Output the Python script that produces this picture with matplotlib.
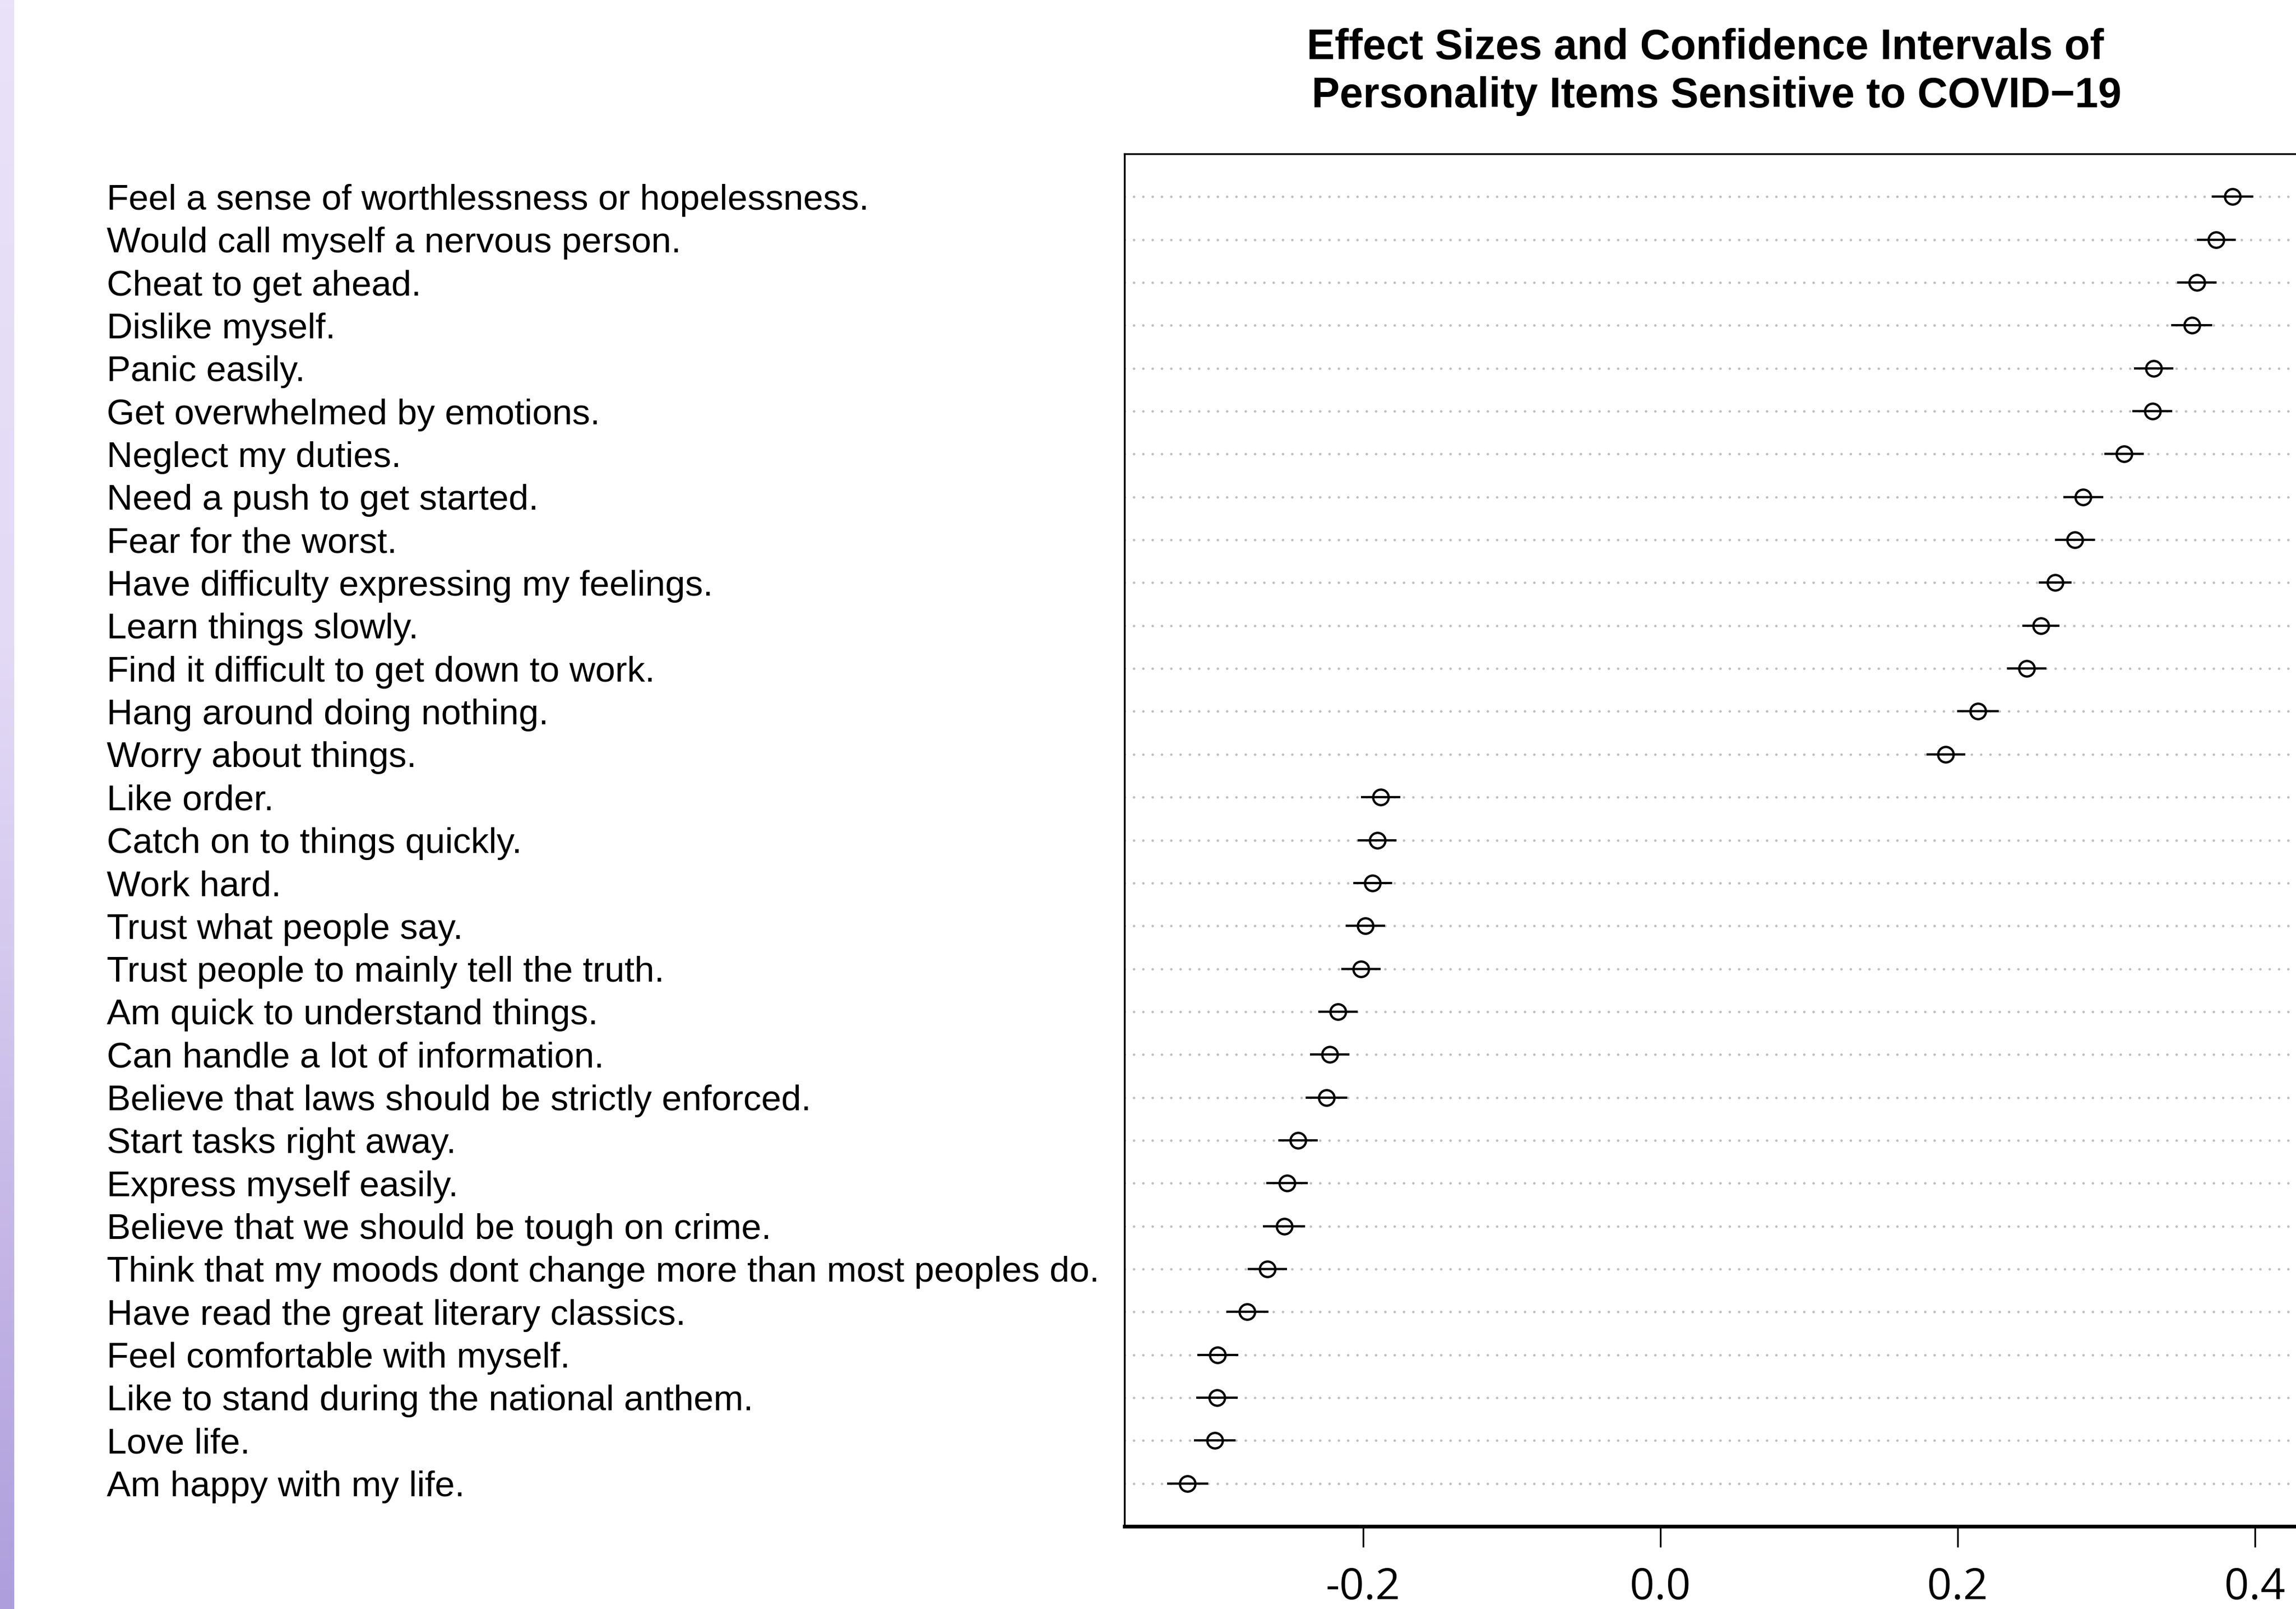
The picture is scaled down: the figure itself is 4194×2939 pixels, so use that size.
import matplotlib
matplotlib.use('Agg')
import matplotlib.pyplot as plt
import numpy as np
from matplotlib.colors import LinearSegmentedColormap
from matplotlib.transforms import blended_transform_factory

plt.rcParams['axes.unicode_minus'] = False

items = [
    'Feel a sense of worthlessness or hopelessness.',
    'Would call myself a nervous person.',
    'Cheat to get ahead.',
    'Dislike myself.',
    'Panic easily.',
    'Get overwhelmed by emotions.',
    'Neglect my duties.',
    'Need a push to get started.',
    'Fear for the worst.',
    'Have difficulty expressing my feelings.',
    'Learn things slowly.',
    'Find it difficult to get down to work.',
    'Hang around doing nothing.',
    'Worry about things.',
    'Like order.',
    'Catch on to things quickly.',
    'Work hard.',
    'Trust what people say.',
    'Trust people to mainly tell the truth.',
    'Am quick to understand things.',
    'Can handle a lot of information.',
    'Believe that laws should be strictly enforced.',
    'Start tasks right away.',
    'Express myself easily.',
    'Believe that we should be tough on crime.',
    'Think that my moods dont change more than most peoples do.',
    'Have read the great literary classics.',
    'Feel comfortable with myself.',
    'Like to stand during the national anthem.',
    'Love life.',
    'Am happy with my life.',
]
effect = [0.385, 0.374, 0.361, 0.3575, 0.332, 0.331, 0.312, 0.2845, 0.279,
          0.2655, 0.256, 0.2465, 0.2137, 0.192, -0.1883, -0.1905, -0.1936,
          -0.1986, -0.2015, -0.2169, -0.2224, -0.2245, -0.2437, -0.2513,
          -0.2532, -0.2645, -0.278, -0.2978, -0.2983, -0.2997, -0.3181]
ci_half = [0.014, 0.0131, 0.0131, 0.0139, 0.0132, 0.0133, 0.0134, 0.0134,
           0.0134, 0.011, 0.0125, 0.0133, 0.0139, 0.0131, 0.0132, 0.0131,
           0.0132, 0.0132, 0.0132, 0.0132, 0.0132, 0.014, 0.0133, 0.014,
           0.0141, 0.0134, 0.0141, 0.0139, 0.0141, 0.014, 0.0139]
xticks = [-0.2, 0.0, 0.2, 0.4]
xtick_labels = ['-0.2', '0.0', '0.2', '0.4']

effect = np.array(effect)
ci_half = np.array(ci_half)
lower = effect - ci_half
upper = effect + ci_half
ypos = np.arange(len(items), 0, -1)

W, H, DPI = 4194, 2939, 300
fig = plt.figure(figsize=(W / DPI, H / DPI), dpi=DPI)

# lavender strip on the left edge
strip = fig.add_axes([0, 0, 26 / W, 1])
cmap = LinearSegmentedColormap.from_list(
    'lav', [(0, '#E9E2F8'), (0.4, '#E3DAF6'), (0.6, '#D4C8EE'),
            (0.8, '#C2B3E5'), (1, '#AE9EDC')])
strip.imshow(np.linspace(0, 1, 256).reshape(-1, 1), aspect='auto', cmap=cmap)
strip.set_axis_off()

ax = fig.add_axes([2054 / W, 1 - 2788 / H, (4196 - 2054) / W, (2788 - 281) / H])
ax.set_xlim(-0.3606, 0.4284)
ax.set_ylim(0, len(items) + 1)

for y in ypos:
    ax.axhline(y, color='#BDBDBD', lw=1.1, linestyle=(0, (0.01, 3.7)),
               dash_capstyle='round', zorder=1)
ax.hlines(ypos, lower, upper, color='black', lw=1.0, zorder=2)
ax.plot(effect, ypos, 'o', ms=6.8, mfc='none', mec='black', mew=1.0, zorder=3)

for s in ax.spines.values():
    s.set_linewidth(0.8)
ax.spines['bottom'].set_linewidth(1.6)
ax.set_yticks([])
ax.set_xticks(xticks)
ax.set_xticklabels(xtick_labels, fontfamily='Open Sans', fontsize=19)
ax.tick_params(axis='x', length=9, width=0.75, pad=8.5)

trans = blended_transform_factory(fig.transFigure, ax.transData)
for y, lab in zip(ypos, items):
    ax.text(195 / W, y, lab, transform=trans, ha='left', va='center_baseline',
            fontsize=15.7, fontfamily='Liberation Sans', clip_on=False)

fig.text(3115 / W, 1 - 108 / H, 'Effect Sizes and Confidence Intervals of',
         ha='center', va='baseline', fontsize=18.4, fontweight='bold',
         fontfamily='Liberation Sans')
fig.text(3136 / W, 1 - 196 / H, 'Personality Items Sensitive to COVID\u221219',
         ha='center', va='baseline', fontsize=18.4, fontweight='bold',
         fontfamily='Liberation Sans')

fig.savefig('out.png', dpi=DPI)
